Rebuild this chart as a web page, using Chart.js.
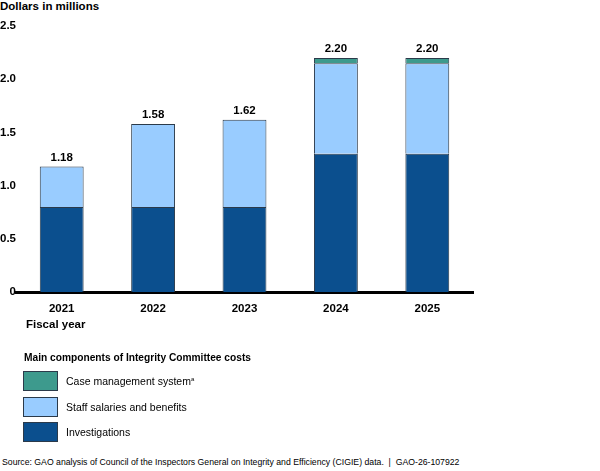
<!DOCTYPE html>
<html>
<head>
<meta charset="utf-8">
<script src="https://cdn.jsdelivr.net/npm/chart.js@4"></script>
<style>
  body { margin: 0; background: #fff; font-family: "Liberation Sans", Arial, sans-serif; color: #000; }
  #wrap { position: relative; width: 600px; height: 471px; }
  #chart-box { position: absolute; left: 0; top: 0; width: 600px; height: 326px; }
  .txt { position: absolute; white-space: nowrap; }
  .bold { font-weight: bold; font-size: 11.5px; }
  #legend { position: absolute; left: 23px; top: 352px; }
  #legend .title { font-weight: bold; font-size: 10.2px; margin-bottom: 8px; margin-left: 1px; }
  .item { display: flex; align-items: center; height: 20px; margin-bottom: 5.5px; font-size: 10.5px; }
  .sw { width: 33px; height: 18px; border: 1px solid #2b3a4a; margin-right: 8px; }
  sup { font-size: 6px; }
</style>
</head>
<body>
<div id="wrap">
  <div class="txt bold" style="left:0;top:0px;">Dollars in millions</div>
  <div id="chart-box"><canvas id="c"></canvas></div>
  <div class="txt bold" style="left:26px;top:318px;">Fiscal year</div>
  <div id="legend"></div>
  <div class="txt" style="left:2px;top:457px;font-size:8.7px;">Source: GAO analysis of Council of the Inspectors General on Integrity and Efficiency (CIGIE) data.&nbsp; |&nbsp; GAO-26-107922</div>
</div>
<script>
// fiscal years
const years = ['2021', '2022', '2023', '2024', '2025'];
// dollars in millions
const investigations = [0.80, 0.80, 0.80, 1.30, 1.30];
const staffSalaries = [0.38, 0.78, 0.82, 0.85, 0.85];
const caseMgmt = [0, 0, 0, 0.05, 0.05];
const yTicks = [0, 0.5, 1.0, 1.5, 2.0, 2.5];

const colors = { inv: '#0b4f8e', staff: '#99ccff', cms: '#3d9a8d', edge: '#2b3a4a' };

const datasets = [
  { label: 'Investigations', data: investigations, backgroundColor: colors.inv },
  { label: 'Staff salaries and benefits', data: staffSalaries, backgroundColor: colors.staff },
  { label: 'Case management system', data: caseMgmt, backgroundColor: colors.cms, sup: 'a' }
];
datasets.forEach(d => {
  d.borderColor = colors.edge;
  d.borderWidth = 1;
  d.barPercentage = 0.96;
  d.categoryPercentage = 0.5;
});

// legend, top entry first like the original
document.getElementById('legend').innerHTML = '<div class="title">Main components of Integrity Committee costs</div>' +
  datasets.slice().reverse().map(d => `<div class="item"><div class="sw" style="background:${d.backgroundColor}"></div><span>${d.label}${d.sup ? '<sup>' + d.sup + '</sup>' : ''}</span></div>`).join('');

// total above each bar
const totalsPlugin = {
  id: 'totals',
  afterDatasetsDraw(chart) {
    const ctx = chart.ctx;
    const last = chart.getDatasetMeta(chart.data.datasets.length - 1);
    ctx.save();
    ctx.font = 'bold 11.5px "Liberation Sans", Arial, sans-serif';
    ctx.fillStyle = '#000';
    ctx.textAlign = 'center';
    ctx.textBaseline = 'bottom';
    years.forEach((y, i) => {
      const total = investigations[i] + staffSalaries[i] + caseMgmt[i];
      const el = last.data[i];
      ctx.fillText(total.toFixed(2), el.x, el.y - 3);
    });
    ctx.restore();
  }
};

new Chart(document.getElementById('c'), {
  type: 'bar',
  data: { labels: years, datasets },
  plugins: [totalsPlugin],
  options: {
    responsive: true,
    maintainAspectRatio: false,
    animation: false,
    layout: { padding: { top: 26, right: 127, left: 0, bottom: 0 } },
    plugins: { legend: { display: false }, tooltip: { enabled: false } },
    scales: {
      x: {
        stacked: true,
        grid: { display: false, drawTicks: false },
        border: { display: true, color: '#000', width: 3 },
        ticks: { color: '#000', font: { weight: 'bold', size: 11.5, family: '"Liberation Sans", Arial' }, padding: 10 }
      },
      y: {
        stacked: true,
        min: 0, max: 2.5,
        afterBuildTicks: s => { s.ticks = yTicks.map(v => ({ value: v })); },
        afterFit: s => { s.width = 16; },
        grid: { display: false, drawTicks: false },
        border: { display: false },
        ticks: {
          color: '#000', padding: 0,
          font: { weight: 'bold', size: 11.5, family: '"Liberation Sans", Arial' },
          callback: v => v === 0 ? '0' : v.toFixed(1)
        }
      }
    }
  }
});
</script>
</body>
</html>
